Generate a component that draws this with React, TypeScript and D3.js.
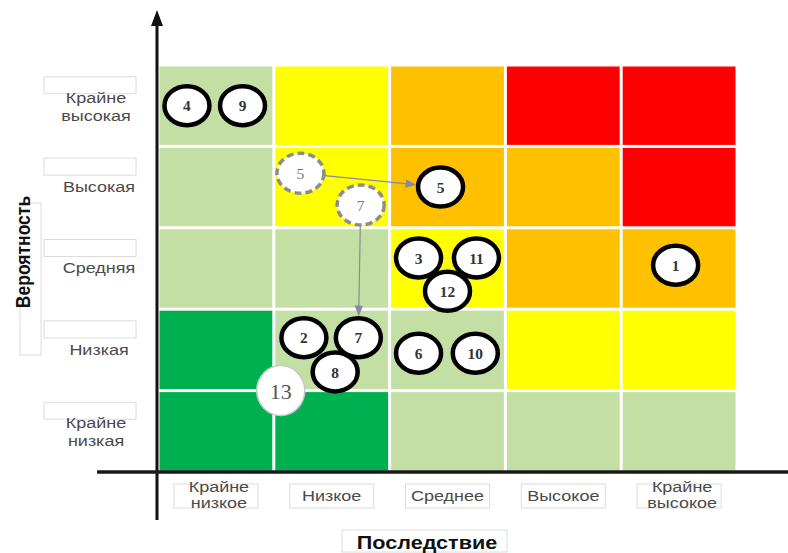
import React from "react";
import * as d3 from "d3";

// risk matrix: probability (rows, bottom -> top) x consequence (columns)
const impactLabels = [["Крайне", "низкое"], ["Низкое"], ["Среднее"], ["Высокое"], ["Крайне", "высокое"]];
const probabilityLabels = [["Крайне", "низкая"], ["Низкая"], ["Средняя"], ["Высокая"], ["Крайне", "высокая"]];

// zone level per cell, rows from "Крайне низкая" up to "Крайне высокая"
const zoneLevels = [
  [0, 0, 1, 1, 1],
  [0, 1, 1, 2, 2],
  [1, 1, 2, 3, 3],
  [1, 2, 3, 3, 4],
  [1, 2, 3, 4, 4],
];

// risks now: [id, consequence, probability] in matrix units (0..5)
const currentRisks: [string, number, number][] = [
  ["4", 0.25, 4.5],
  ["9", 0.73, 4.5],
  ["5", 2.44, 3.5],
  ["3", 2.25, 2.63],
  ["11", 2.75, 2.63],
  ["12", 2.5, 2.22],
  ["1", 4.47, 2.54],
  ["2", 1.26, 1.65],
  ["7", 1.73, 1.65],
  ["8", 1.53, 1.23],
  ["6", 2.25, 1.46],
  ["10", 2.74, 1.46],
];

// where risks 5 and 7 were before
const previousRisks: [string, number, number][] = [
  ["5", 1.23, 3.67],
  ["7", 1.75, 3.28],
];

const noteMarker: [string, number, number] = ["13", 1.06, 1.0];

const W = 788;
const H = 553;

const zoneColor = d3.scaleOrdinal<number, string>()
  .domain([0, 1, 2, 3, 4])
  .range(["#00b050", "#c4dfa3", "#ffff00", "#ffc000", "#ff0000"]);

const x = d3.scaleLinear().domain([0, 5]).range([158, 737]);
const y = d3.scaleLinear().domain([0, 5]).range([472, 65]);

const RX = 22.5;
const RY = 19.5;

const labelFont = "'Liberation Sans', Arial, sans-serif";
const serifFont = "'Liberation Serif', 'Times New Roman', serif";

function Stretch({ x0, y0, children, size, weight, fill, sx = 1.18, anchor = "middle", family = labelFont }: any) {
  return (
    <text
      transform={`translate(${x0},${y0}) scale(${sx},1)`}
      textAnchor={anchor}
      dominantBaseline="central"
      fontFamily={family}
      fontSize={size}
      fontWeight={weight}
      fill={fill}
    >
      {children}
    </text>
  );
}

function trim(from: number[], to: number[], r1: number, r2: number) {
  const dx = to[0] - from[0];
  const dy = to[1] - from[1];
  const len = Math.hypot(dx, dy);
  const ux = dx / len;
  const uy = dy / len;
  const e = 1 / Math.sqrt((ux * ux) / (RX * RX) + (uy * uy) / (RY * RY));
  return [from[0] + ux * (e + r1), from[1] + uy * (e + r1), to[0] - ux * (e + r2), to[1] - uy * (e + r2)];
}

export default function App() {
  const cols = d3.range(5);
  const rows = d3.range(5);

  const moves = previousRisks.map((p) => {
    const c = currentRisks.find((r) => r[0] === p[0])!;
    return trim([x(p[1]), y(p[2])], [x(c[1]), y(c[2])], 2, 3);
  });

  const labelFill = "#4a4a4a";

  return (
    <svg width={W} height={H} style={{ position: "absolute", left: 0, top: 0, background: "#fff" }}>
      <defs>
        <marker id="arr" viewBox="0 0 10 10" refX="9" refY="5" markerWidth="9" markerHeight="9" orient="auto">
          <path d="M0,1 L10,5 L0,9 Z" fill="#8a8a9a" />
        </marker>
      </defs>

      {/* cells */}
      {rows.map((r) =>
        cols.map((c) => (
          <rect
            key={`${r}-${c}`}
            x={x(c) + 1.5}
            y={y(r + 1) + 1.5}
            width={x(c + 1) - x(c) - 3}
            height={y(r) - y(r + 1) - 3}
            fill={zoneColor(zoneLevels[r][c])}
          />
        ))
      )}

      {/* axes */}
      <line x1={157} x2={157} y1={22} y2={520} stroke="#111" strokeWidth={3} />
      <path d="M151,26 L157,10 L163,26 Z" fill="#111" />
      <line x1={97} x2={W} y1={472} y2={472} stroke="#1a1a1a" strokeWidth={3.5} />

      {/* probability labels */}
      {probabilityLabels.map((lab, r) => {
        const cy = (y(r) + y(r + 1)) / 2;
        return (
          <g key={r}>
            <rect x={44} y={cy - 29} width={92} height={17} fill="#fff" stroke="#dcdcdc" strokeWidth={1} />
            {lab.length === 1 ? (
              <Stretch x0={99} y0={cy} size={15} fill={labelFill} sx={1.2}>{lab[0]}</Stretch>
            ) : (
              <>
                <Stretch x0={96} y0={cy - 8} size={15} fill={labelFill} sx={1.2}>{lab[0]}</Stretch>
                <Stretch x0={96} y0={cy + 10} size={15} fill={labelFill} sx={1.2}>{lab[1]}</Stretch>
              </>
            )}
          </g>
        );
      })}

      {/* impact labels */}
      {impactLabels.map((lab, c) => {
        const cx = (x(c) + x(c + 1)) / 2;
        return (
          <g key={c}>
            <rect x={cx - 42} y={484} width={84} height={24} fill="#fff" stroke="#dcdcdc" strokeWidth={1} />
            {lab.length === 1 ? (
              <Stretch x0={cx} y0={496} size={15} fill={labelFill} sx={1.2}>{lab[0]}</Stretch>
            ) : (
              <>
                <Stretch x0={cx + 3} y0={487} size={15} fill={labelFill} sx={1.2}>{lab[0]}</Stretch>
                <Stretch x0={cx + 3} y0={503} size={15} fill={labelFill} sx={1.2}>{lab[1]}</Stretch>
              </>
            )}
          </g>
        );
      })}

      {/* axis titles */}
      <rect x={20} y={203} width={21} height={152} fill="#fff" stroke="#dcdcdc" strokeWidth={1} />
      <text
        transform={`translate(23,252) rotate(-90) scale(1,1.12)`}
        textAnchor="middle"
        dominantBaseline="central"
        fontFamily={labelFont}
        fontSize={17.5}
        fontWeight="bold"
        fill="#111"
      >
        Вероятность
      </text>
      <rect x={342} y={530} width={165} height={22} fill="#fff" stroke="#dcdcdc" strokeWidth={1} />
      <Stretch x0={427} y0={543} size={18} weight="bold" fill="#111" sx={1.2}>Последствие</Stretch>

      {/* movement arrows */}
      {moves.map((m, i) => (
        <line key={i} x1={m[0]} y1={m[1]} x2={m[2]} y2={m[3]} stroke="#8a8a9a" strokeWidth={1.2} markerEnd="url(#arr)" />
      ))}

      {/* previous positions */}
      {previousRisks.map((p) => (
        <g key={"p" + p[0]}>
          <ellipse cx={x(p[1])} cy={y(p[2])} rx={RX + 1} ry={RY + 0.5} fill="#fff" stroke="#8c8c8c" strokeWidth={3.5} strokeDasharray="7 4" />
          <Stretch x0={x(p[1])} y0={y(p[2]) + 1} size={14} fill="#777" family={serifFont} sx={1.1}>{p[0]}</Stretch>
        </g>
      ))}

      {/* current risks */}
      {currentRisks.map((p, i) => (
        <g key={"c" + i}>
          <ellipse cx={x(p[1])} cy={y(p[2])} rx={RX} ry={RY} fill="#fff" stroke="#000" strokeWidth={4.5} />
          <Stretch x0={x(p[1])} y0={y(p[2]) + 1} size={14} weight="bold" fill="#333" family={serifFont} sx={1.1}>{p[0]}</Stretch>
        </g>
      ))}

      {/* note marker */}
      <ellipse cx={x(noteMarker[1])} cy={y(noteMarker[2])} rx={24} ry={25} fill="#fff" stroke="#c8c8c8" strokeWidth={1.5} />
      <Stretch x0={x(noteMarker[1])} y0={y(noteMarker[2]) + 1} size={22} fill="#555" family={serifFont} sx={1}>{noteMarker[0]}</Stretch>
    </svg>
  );
}
